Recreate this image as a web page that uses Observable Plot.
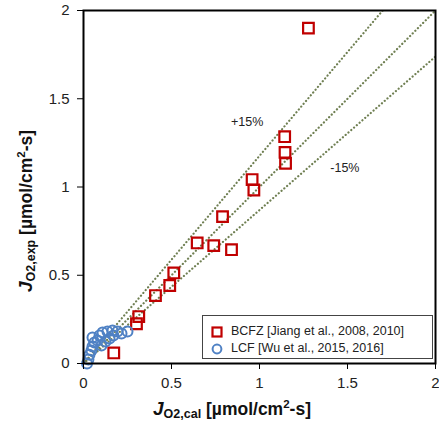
<!DOCTYPE html>
<html><head><meta charset="utf-8">
<script src="https://cdn.jsdelivr.net/npm/d3@7"></script>
<script src="https://cdn.jsdelivr.net/npm/@observablehq/plot@0.6"></script>
<style>
body{margin:0;background:#fff;font-family:Arial,"Liberation Sans",sans-serif}
#c{position:relative;width:439px;height:427px;overflow:hidden}
#legend{position:absolute;left:202px;top:315px;width:229px;height:42px;border:1px solid #444;background:#fff;font-size:12.5px;color:#222;box-sizing:content-box}
#legend .row{position:absolute;left:8px;height:16px;line-height:16px;white-space:nowrap}
#legend svg{vertical-align:middle;margin-right:8px}
</style>
</head><body><div id="c"></div><script>
// BCFZ [Jiang et al.] (squares)
const bcfzX=[1.278,1.143,1.145,1.148,0.958,0.968,0.79,0.646,0.74,0.841,0.513,0.49,0.409,0.314,0.301,0.172];
const bcfzY=[1.90,1.285,1.196,1.134,1.042,0.983,0.832,0.683,0.668,0.645,0.513,0.442,0.385,0.266,0.225,0.06];
// LCF [Wu et al.] (circles)
const lcfX=[0.02,0.028,0.034,0.045,0.051,0.062,0.051,0.08,0.091,0.108,0.136,0.102,0.125,0.148,0.17,0.193,0.216,0.25,0.165];
const lcfY=[0.0,0.023,0.05,0.074,0.096,0.119,0.147,0.13,0.159,0.176,0.181,0.102,0.125,0.142,0.159,0.181,0.17,0.181,0.187];
const xTicks=[0,0.5,1,1.5,2];
const yTicks=[0,0.5,1,1.5,2];
const guideSlopes=[1/0.85,1,1/1.15];
const guideEnds=[0,2];
const annText=["+15%","-15%"];
const annX=[0.93,1.485];
const annY=[1.366,1.106];
const legendLabels=["BCFZ [Jiang et al., 2008, 2010]","LCF [Wu et al., 2015, 2016]"];

const bcfz=bcfzX.map((x,i)=>({x,y:bcfzY[i]}));
const lcf=lcfX.map((x,i)=>({x,y:lcfY[i]}));
const guides=guideSlopes.flatMap((s,g)=>guideEnds.map(x=>({g,x,y:x*s})));
const ann=annText.map((t,i)=>({t,x:annX[i],y:annY[i]}));

const RED="#c00000", BLUE="#4f81c4";
const chart=Plot.plot({
  width:439,height:427,
  marginLeft:83,marginRight:4,marginTop:10,marginBottom:64,
  x:{domain:[0,2]},
  y:{domain:[0,2]},
  style:{fontFamily:"Arial, 'Liberation Sans', sans-serif",fontSize:"15px",color:"#222",background:"#fff",overflow:"visible"},
  marks:[
    Plot.line(guides,{x:"x",y:"y",z:"g",stroke:"#6f7f52",strokeWidth:2.2,strokeDasharray:"0.1,3.6",strokeLinecap:"round",clip:true}),
    Plot.dot(bcfz,{x:"x",y:"y",symbol:"square",r:6,stroke:RED,strokeWidth:2.2,fill:"none"}),
    Plot.dot(lcf,{x:"x",y:"y",r:5,stroke:BLUE,strokeWidth:2,fill:"none"}),
    Plot.text(ann,{x:"x",y:"y",text:"t",fontSize:12.5,fill:"#222"}),
    Plot.frame({stroke:"#000",strokeWidth:2}),
    Plot.axisX({ticks:xTicks,tickSize:6,tickPadding:8,label:null,tickFormat:d=>String(d),fontSize:15,stroke:"#000",fill:"#222"}),
    Plot.axisY({ticks:yTicks,tickSize:6,tickPadding:8,label:null,tickFormat:d=>String(d),fontSize:15,stroke:"#000",fill:"#222"})
  ]
});
const c=document.getElementById("c");
c.appendChild(chart);

// axis titles with sub/superscripts
const svg=d3.select(chart);
function title(g,sub){
  const t=g.append("text").attr("text-anchor","middle").attr("font-weight","bold").attr("font-size",17.5).attr("fill","#111")
    .attr("font-family","Arial, 'Liberation Sans', sans-serif");
  t.append("tspan").attr("font-style","italic").attr("font-size",19).text("J");
  t.append("tspan").attr("font-size",12.5).attr("dy",3).text(sub);
  t.append("tspan").attr("dy",-3).text(" [\u00b5mol/cm");
  t.append("tspan").attr("font-size",11.5).attr("dy",-7).text("2");
  t.append("tspan").attr("dy",7).text("-s]");
}
title(svg.append("g").attr("transform","translate(232,415)"),"O2,cal");
title(svg.append("g").attr("transform","translate(32,211) rotate(-90)"),"O2,exp");

// legend
const lg=document.createElement("div");lg.id="legend";
legendLabels.forEach((lab,i)=>{
  const r=document.createElement("div");r.className="row";r.style.top=(7+i*17)+"px";
  const mk=i===0
    ?`<svg width="12" height="12"><rect x="1.5" y="1.5" width="9" height="9" fill="none" stroke="${RED}" stroke-width="2.2"/></svg>`
    :`<svg width="12" height="12"><circle cx="6" cy="6" r="4.4" fill="none" stroke="${BLUE}" stroke-width="2"/></svg>`;
  r.innerHTML=mk;r.appendChild(document.createTextNode(lab));
  lg.appendChild(r);
});
c.appendChild(lg);
</script></body></html>
